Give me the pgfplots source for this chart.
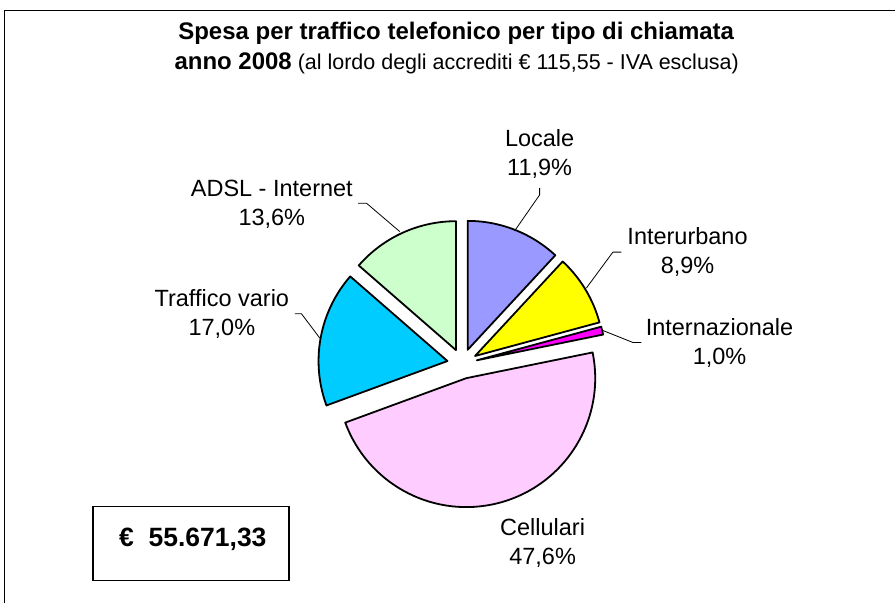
\documentclass[border=0pt]{standalone}
\usepackage{pgfplots}
\pgfplotsset{compat=1.18}
\usepackage{pgfplotstable}
\usepackage{fontspec}
\setmainfont{Liberation Sans}
\definecolor{cLocale}{HTML}{9999FF}
\definecolor{cInter}{HTML}{FFFF00}
\definecolor{cIntl}{HTML}{FF00FF}
\definecolor{cCell}{HTML}{FFCCFF}
\definecolor{cTraf}{HTML}{00CCFF}
\definecolor{cAdsl}{HTML}{CCFFCC}

\pgfplotstableread[col sep=comma]{
label,value,col,lx,ly
Locale,11.9,cLocale,540,147
Interurbano,8.9,cInter,688,245
Internazionale,1.0,cIntl,720,336
Cellulari,47.6,cCell,543,536
Traffico vario,17.0,cTraf,222,307
ADSL - Internet,13.6,cAdsl,272,197
}\piedata

\newcommand\labfont{\fontsize{23.5bp}{28bp}\selectfont}

\begin{document}
\begin{tikzpicture}
\begin{axis}[scale only axis, width=896bp, height=603bp,
  xmin=0, xmax=896, ymin=0, ymax=603, y dir=reverse,
  hide axis, clip=false, enlargelimits=false]
\path (axis cs:0,0) rectangle (axis cs:896,603);
% outer frame
\draw[line width=1.2bp] (axis cs:4.5,603) -- (axis cs:4.5,10.5) -- (axis cs:896,10.5);
% title
\node[anchor=base, font=\bfseries\fontsize{24bp}{28bp}\selectfont] at (axis cs:456.5,40) {Spesa per traffico telefonico per tipo di chiamata};
\node[anchor=base] at (axis cs:457,70) {{\bfseries\fontsize{24bp}{28bp}\selectfont anno 2008}{\fontsize{21.5bp}{26bp}\selectfont\ (al lordo degli accrediti € 115,55 - IVA esclusa)}};
% pie slices from the table
\xdef\pieCum{0}
\pgfplotsinvokeforeach{0,...,5}{
  \pgfplotstablegetelem{#1}{value}\of\piedata \let\pieV\pgfplotsretval
  \pgfplotstablegetelem{#1}{col}\of\piedata \let\pieC\pgfplotsretval
  \pgfplotstablegetelem{#1}{label}\of\piedata \let\pieL\pgfplotsretval
  \pgfplotstablegetelem{#1}{lx}\of\piedata \let\pieX\pgfplotsretval
  \pgfplotstablegetelem{#1}{ly}\of\piedata \let\pieY\pgfplotsretval
  \pgfmathsetmacro\pieSA{90-3.6*\pieCum}
  \pgfmathsetmacro\pieEA{90-3.6*(\pieCum+\pieV)}
  \pgfmathsetmacro\pieMA{(\pieSA+\pieEA)/2}
  \pgfmathsetmacro\pieYY{\pieY+29}
  \pgfmathparse{\pieCum+\pieV}\xdef\pieCum{\pgfmathresult}
  \edef\pieTemp{
    \noexpand\filldraw[fill=\pieC, draw=black, line width=1.8bp, line join=round]
      ([shift={(\pieMA:15bp)}]axis cs:462.5,364) -- ++(\pieSA:129bp)
      arc[start angle=\pieSA, end angle=\pieEA, radius=129bp] -- cycle;
    \noexpand\node[anchor=base, font=\noexpand\labfont] at (axis cs:\pieX,\pieY) {\pieL};
    \noexpand\node[anchor=base, font=\noexpand\labfont] at (axis cs:\pieX,\pieYY)
      {\noexpand\pgfmathprintnumber[fixed,fixed zerofill,precision=1,use comma,assume math mode=true]{\pieV}\noexpand\%};
  }
  \pieTemp
}
% leader lines
\draw[line width=0.8bp] (axis cs:540,188) -- (axis cs:540,195) -- (axis cs:515,231);
\draw[line width=0.8bp] (axis cs:621.7,252.3) -- (axis cs:613.3,252.3) -- (axis cs:586.7,288.3);
\draw[line width=0.8bp] (axis cs:603.3,330.7) -- (axis cs:633.3,342.7) -- (axis cs:641.7,342.7);
\draw[line width=0.8bp] (axis cs:358.3,203.3) -- (axis cs:366.7,203.3) -- (axis cs:400,231.7);
\draw[line width=0.8bp] (axis cs:295,314) -- (axis cs:301.7,314) -- (axis cs:320,338.3);
% total box
\draw[line width=1.5bp] (axis cs:93,507) rectangle (axis cs:289,581);
\node[anchor=base, font=\bfseries\fontsize{26.5bp}{30bp}\selectfont] at (axis cs:193,547) {€\ \ 55.671,33};
\end{axis}
\end{tikzpicture}
\end{document}
